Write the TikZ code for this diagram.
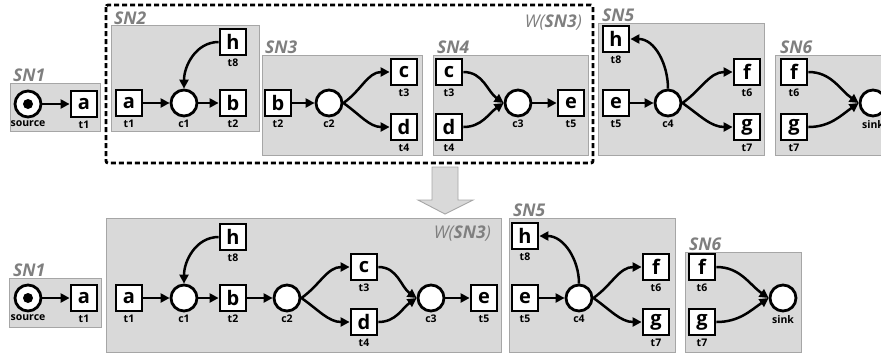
\documentclass[tikz,border=0pt]{standalone}
\usepackage{fontspec}
\setmainfont{Open Sans}
\usetikzlibrary{arrows.meta}
\definecolor{snfill}{HTML}{D9D9D9}
\definecolor{snline}{HTML}{A6A6A6}
\definecolor{sntext}{HTML}{7F7F7F}
\tikzset{
  trans/.style={draw, line width=2.8pt, fill=white, minimum size=26pt, inner sep=0pt,
    font=\fontsize{20}{20}\selectfont\bfseries},
  place/.style={draw, circle, line width=2.8pt, fill=white, minimum size=26pt, inner sep=0pt},
  sub/.style={font=\fontsize{10.5}{11}\selectfont\bfseries, inner sep=0.5pt},
  region/.style={fill=snfill, draw=snline, line width=0.9pt},
  snlab/.style={font=\fontsize{17.5}{17.5}\selectfont\bfseries\itshape, text=sntext, anchor=base west, inner sep=0pt},
  wlab/.style={font=\fontsize{17.5}{17.5}\selectfont\itshape, text=sntext, anchor=base east, inner sep=0pt},
  arc/.style={-{Triangle[length=9pt,width=9pt]}, line width=2.5pt},
  every label/.style={sub, label distance=2pt},
  token/.style={circle, fill=black, minimum size=10pt, inner sep=0pt}
}
\begin{document}
\begin{tikzpicture}[x=1pt,y=-1pt]
\useasboundingbox (0,0) rectangle (881,354);
\clip (0,0) rectangle (881,354);
% ---------------- top row ----------------
\draw[region] (10,83) rectangle (100,131);
\node[snlab] (lT1) at (13,81) {SN1};
\draw[region] (111,25) rectangle (259,131);
\node[snlab] (lT2) at (114,24) {SN2};
\draw[region] (262,55) rectangle (422,155);
\node[snlab] (lT3) at (265,53) {SN3};
\draw[region] (433,55) rectangle (588,155);
\node[snlab] (lT4) at (437,53) {SN4};
\draw[region] (598,23) rectangle (764,155);
\node[snlab] (lT5) at (602,21) {SN5};
\draw[region] (775,55) rectangle (900,155);
\node[snlab] (lT6) at (780,53) {SN6};
\draw[line width=2.8pt, dash pattern=on 5pt off 3pt, rounded corners=2pt] (106,5) rectangle (593,163);
\node[wlab] (lTW) at (582,27) {W(\textbf{SN3})};

% SN1
\node[place,label={below:source}] (T1src) at (28,104) {};
\node[token] (T1tok) at (T1src) {};
\node[trans,label={below:t1}] (T1a) at (84,104) {a};
\draw[arc] (T1src) -- (T1a);
% SN2
\node[trans,label={below:t1}] (T2a) at (129,103) {a};
\node[place,label={below:c1}] (T2c1) at (184,103) {};
\node[trans,label={below:t2}] (T2b) at (233,103) {b};
\node[trans,label={below:t8}] (T2h) at (233,42) {h};
\draw[arc] (T2a) -- (T2c1);
\draw[arc] (T2c1) -- (T2b);
\draw[arc] (T2h.west) to[out=180,in=90] (T2c1.north);
% SN3
\node[trans,label={below:t2}] (T3b) at (278,103) {b};
\node[place,label={below:c2}] (T3c2) at (329,103) {};
\node[trans,label={below:t3}] (T3c) at (404,72) {c};
\node[trans,label={below:t4}] (T3d) at (404,127) {d};
\draw[arc] (T3b) -- (T3c2);
\draw[arc] (T3c2.east) to[out=35,in=180] (T3c.west);
\draw[arc] (T3c2.east) to[out=-35,in=180] (T3d.west);
% SN4
\node[trans,label={below:t3}] (T4c) at (449,72) {c};
\node[trans,label={below:t4}] (T4d) at (449,127) {d};
\node[place,label={below:c3}] (T4c3) at (518,103) {};
\node[trans,label={below:t5}] (T4e) at (571,103) {e};
\draw[arc] (T4c.east) to[out=0,in=145] (T4c3.west);
\draw[arc] (T4d.east) to[out=0,in=215] (T4c3.west);
\draw[arc] (T4c3) -- (T4e);
% SN5
\node[trans,label={below:t8}] (T5h) at (616,39) {h};
\node[trans,label={below:t5}] (T5e) at (616,103) {e};
\node[place,label={below:c4}] (T5c4) at (668,103) {};
\node[trans,label={below:t6}] (T5f) at (747,72) {f};
\node[trans,label={below:t7}] (T5g) at (747,127) {g};
\draw[arc] (T5e) -- (T5c4);
\draw[arc] (T5c4.north) to[out=90,in=0] (T5h.east);
\draw[arc] (T5c4.east) to[out=35,in=180] (T5f.west);
\draw[arc] (T5c4.east) to[out=-35,in=180] (T5g.west);
% SN6
\node[trans,label={below:t6}] (T6f) at (794,72) {f};
\node[trans,label={below:t7}] (T6g) at (794,127) {g};
\node[place,label={below:sink}] (T6sink) at (873,103) {};
\draw[arc] (T6f.east) to[out=0,in=145] (T6sink.west);
\draw[arc] (T6g.east) to[out=0,in=215] (T6sink.west);

% block arrow
\draw[fill=snfill, draw=snline, line width=0.9pt] (432,167) -- (458,167) -- (458,200) -- (473,200) -- (445,214) -- (418,200) -- (432,200) -- cycle;

% ---------------- bottom row ----------------
\draw[region] (9,278) rectangle (101,327);
\node[snlab] (lB1) at (13,276) {SN1};
\draw[region] (106,218) rectangle (501,352);
\node[wlab] (lBW) at (491,238) {W(\textbf{SN3})};
\draw[region] (509,218) rectangle (675,352);
\node[snlab] (lB5) at (513,216) {SN5};
\draw[region] (685,252) rectangle (801,352);
\node[snlab] (lB6) at (689,250) {SN6};

% SN1
\node[place,label={below:source}] (B1src) at (28,298) {};
\node[token] (B1tok) at (B1src) {};
\node[trans,label={below:t1}] (B1a) at (84,298) {a};
\draw[arc] (B1src) -- (B1a);
% W(SN3)
\node[trans,label={below:t1}] (Wa) at (129,298) {a};
\node[place,label={below:c1}] (Wc1) at (184,298) {};
\node[trans,label={below:t2}] (Wb) at (233,298) {b};
\node[trans,label={below:t8}] (Wh) at (233,237) {h};
\node[place,label={below:c2}] (Wc2) at (287,298) {};
\node[trans,label={below:t3}] (Wc) at (364,267) {c};
\node[trans,label={below:t4}] (Wd) at (364,322) {d};
\node[place,label={below:c3}] (Wc3) at (431,298) {};
\node[trans,label={below:t5}] (We) at (484,298) {e};
\draw[arc] (Wa) -- (Wc1);
\draw[arc] (Wc1) -- (Wb);
\draw[arc] (Wh.west) to[out=180,in=90] (Wc1.north);
\draw[arc] (Wb) -- (Wc2);
\draw[arc] (Wc2.east) to[out=35,in=180] (Wc.west);
\draw[arc] (Wc2.east) to[out=-35,in=180] (Wd.west);
\draw[arc] (Wc.east) to[out=0,in=145] (Wc3.west);
\draw[arc] (Wd.east) to[out=0,in=215] (Wc3.west);
\draw[arc] (Wc3) -- (We);
% SN5
\node[trans,label={below:t8}] (B5h) at (525,236) {h};
\node[trans,label={below:t5}] (B5e) at (525,298) {e};
\node[place,label={below:c4}] (B5c4) at (579,298) {};
\node[trans,label={below:t6}] (B5f) at (656,267) {f};
\node[trans,label={below:t7}] (B5g) at (656,322) {g};
\draw[arc] (B5e) -- (B5c4);
\draw[arc] (B5c4.north) to[out=90,in=0] (B5h.east);
\draw[arc] (B5c4.east) to[out=35,in=180] (B5f.west);
\draw[arc] (B5c4.east) to[out=-35,in=180] (B5g.west);
% SN6
\node[trans,label={below:t6}] (B6f) at (702,267) {f};
\node[trans,label={below:t7}] (B6g) at (702,322) {g};
\node[place,label={below:sink}] (B6sink) at (783,298) {};
\draw[arc] (B6f.east) to[out=0,in=145] (B6sink.west);
\draw[arc] (B6g.east) to[out=0,in=215] (B6sink.west);
\end{tikzpicture}
\end{document}
